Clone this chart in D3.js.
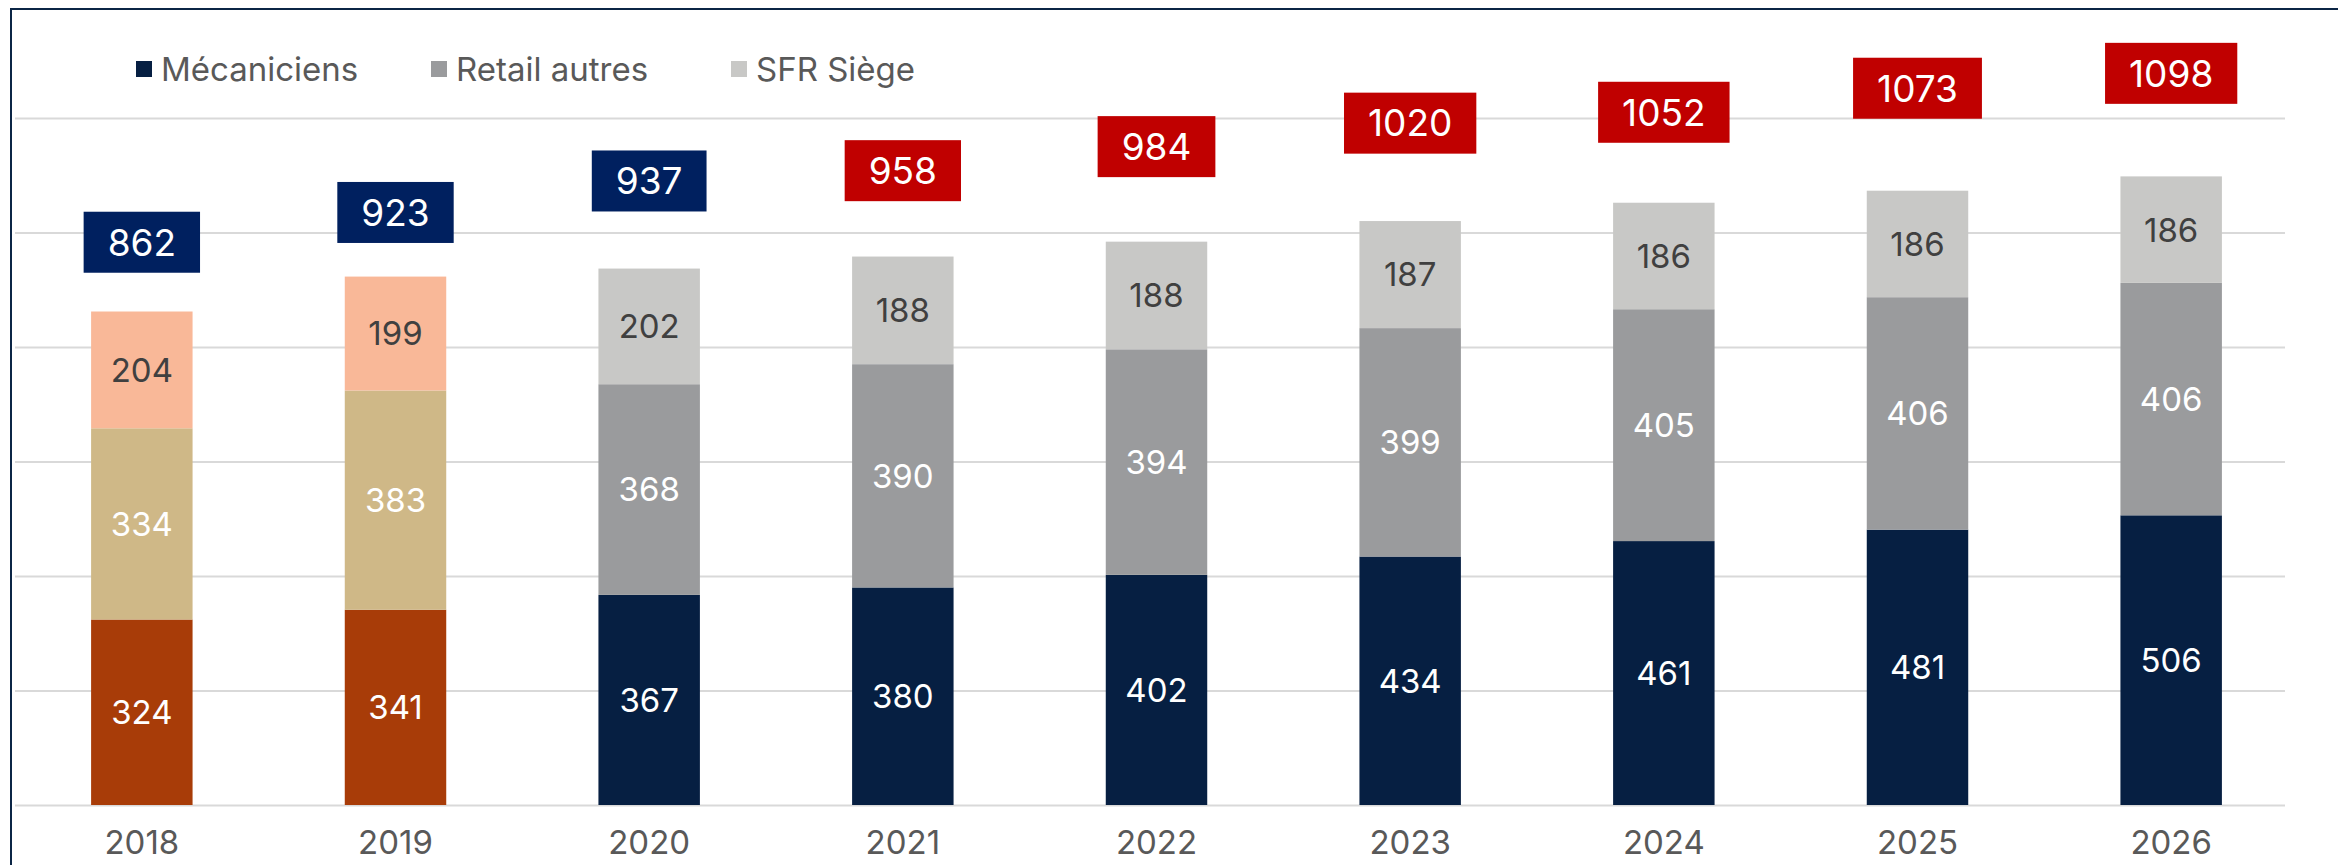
<!DOCTYPE html>
<head>
<meta charset="utf-8">
<script src="https://d3js.org/d3.v7.min.js"></script>
<style>
    html, body { margin: 0; padding: 0; background: #fff; }
    svg { display: block; font-family: Inter, "Liberation Sans", Arial, sans-serif; }
</style>
</head>
<body>
<div id="container"></div>
<script>
    // données
    var years = ['2018', '2019', '2020', '2021', '2022', '2023', '2024', '2025', '2026'];
    var mecaniciens = [324, 341, 367, 380, 402, 434, 461, 481, 506];
    var retailAutres = [334, 383, 368, 390, 394, 399, 405, 406, 406];
    var sfrSiege = [204, 199, 202, 188, 188, 187, 186, 186, 186];
    // niveau (en unités de l'axe) où flotte l'étiquette du total
    var totalLabelLevel = [983, 1035, 1090, 1108, 1150, 1191, 1210, 1252, 1278];
    var seriesNames = ['Mécaniciens', 'Retail autres', 'SFR Siège'];
    var legacyYears = ['2018', '2019'];
    var forecastFrom = '2021';
    var yTicks = [0, 200, 400, 600, 800, 1000, 1200];

    var W = 2338, H = 865;
    var colors = ['#061f42', '#9a9b9d', '#c8c8c6'];
    var legacyColors = ['#a83c08', '#cfb887', '#f9b898'];
    var segText = ['#ffffff', '#ffffff', '#404040'];

    var svg = d3.select('#container').append('svg').attr('width', W).attr('height', H);

    var x = d3.scaleBand().domain(years).range([15, 2298]).paddingInner(0.6).paddingOuter(0.3);
    var y = d3.scaleLinear().domain([0, 1200]).range([805, 118]);

    var rows = years.map(function(yr, i) {
        return { year: yr, 'Mécaniciens': mecaniciens[i], 'Retail autres': retailAutres[i], 'SFR Siège': sfrSiege[i], level: totalLabelLevel[i] };
    });
    var stacked = d3.stack().keys(seriesNames)(rows);

    // quadrillage
    svg.append('g')
        .attr('transform', 'translate(15,0)')
        .call(d3.axisLeft(y).tickValues(yTicks).tickSize(-2270).tickFormat(''))
        .call(function(g) {
            g.select('.domain').remove();
            g.selectAll('line').attr('stroke', '#d9d9d9').attr('stroke-width', 2);
        });

    // barres empilées
    stacked.forEach(function(layer, k) {
        var g = svg.append('g').attr('class', 'layer');
        g.selectAll('rect').data(layer).enter().append('rect')
            .attr('x', function(d) { return x(d.data.year); })
            .attr('width', x.bandwidth())
            .attr('y', function(d) { return y(d[1]); })
            .attr('height', function(d) { return y(d[0]) - y(d[1]); })
            .attr('fill', function(d) {
                return legacyYears.indexOf(d.data.year) >= 0 ? legacyColors[k] : colors[k];
            });
        g.selectAll('text').data(layer).enter().append('text')
            .attr('x', function(d) { return x(d.data.year) + x.bandwidth() / 2; })
            .attr('y', function(d) { return (y(d[0]) + y(d[1])) / 2; })
            .attr('dy', '0.36em')
            .attr('text-anchor', 'middle')
            .attr('font-size', 33)
            .attr('fill', segText[k])
            .text(function(d) { return d[1] - d[0]; });
    });

    // étiquettes des totaux
    var totals = svg.append('g').selectAll('g').data(rows).enter().append('g')
        .attr('transform', function(d) {
            return 'translate(' + (x(d.year) + x.bandwidth() / 2) + ',' + y(d.level) + ')';
        });
    totals.append('rect')
        .attr('fill', function(d) { return d.year >= forecastFrom ? '#c00000' : '#00205f'; });
    totals.append('text')
        .attr('text-anchor', 'middle')
        .attr('dy', '0.36em')
        .attr('font-size', 37)
        .attr('fill', '#fff')
        .text(function(d) { return d['Mécaniciens'] + d['Retail autres'] + d['SFR Siège']; });
    totals.each(function() {
        var t = d3.select(this).select('text').node().getComputedTextLength();
        var w = t + 48;
        d3.select(this).select('rect').attr('x', -w / 2).attr('y', -30.5).attr('width', w).attr('height', 61);
    });

    // axe des x
    svg.append('g')
        .attr('transform', 'translate(0,805)')
        .call(d3.axisBottom(x).tickSize(0).tickPadding(26))
        .call(function(g) {
            g.attr('font-family', null).attr('font-size', null);
            g.select('.domain').remove();
            g.selectAll('text').attr('font-size', 33).attr('fill', '#595959');
        });

    // légende
    var legendX = [136, 431, 731];
    var legend = svg.append('g').selectAll('g').data(seriesNames).enter().append('g')
        .attr('transform', function(d, i) { return 'translate(' + legendX[i] + ',69)'; });
    legend.append('rect').attr('x', 0).attr('y', -8).attr('width', 16).attr('height', 16)
        .attr('fill', function(d, i) { return colors[i]; });
    legend.append('text').attr('x', 25).attr('dy', '0.36em')
        .attr('font-size', 33).attr('fill', '#595959')
        .text(function(d) { return d; });

    // cadre
    svg.append('path')
        .attr('d', 'M11,' + H + 'V9H' + W)
        .attr('fill', 'none').attr('stroke', '#0b2545').attr('stroke-width', 2);
</script>
</body>
